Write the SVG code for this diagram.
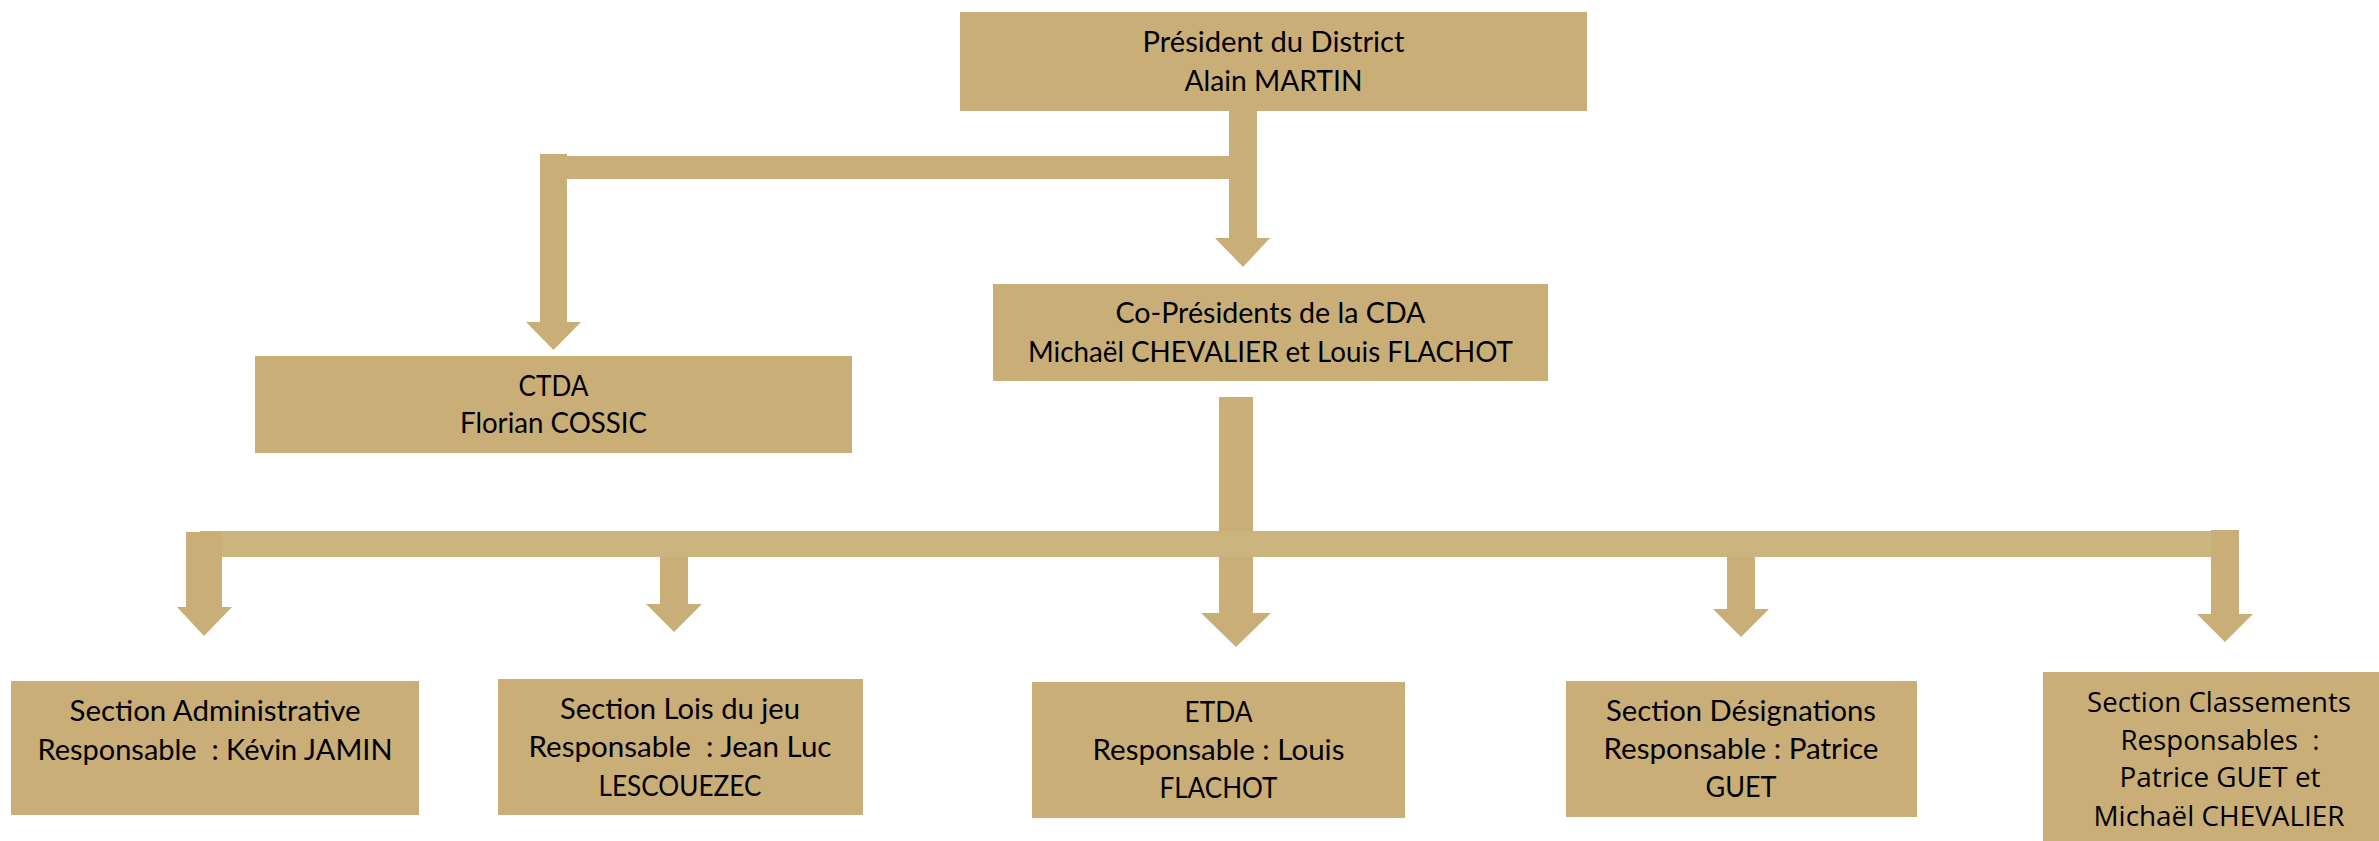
<svg xmlns="http://www.w3.org/2000/svg" width="2379" height="841" viewBox="0 0 2379 841">
<style>
.box{fill:#C9AF77}
.arr{fill:#C9AF77}
.bar{fill:#CCB47F}
.t{font-family:Lato,"Open Sans","Liberation Sans",sans-serif;font-size:29px;fill:#000;text-anchor:middle;white-space:pre}
.o{font-family:"Open Sans","Liberation Sans",sans-serif;font-size:28px;fill:#000;text-anchor:middle;white-space:pre}
</style>
<rect width="2379" height="841" fill="#fff"/>
<g id="connectors">
  <path class="arr" d="M1229,111 H1257 V238 H1270 L1243,267 L1215,238 H1229 Z"/>
  <rect class="arr" x="540" y="156" width="700" height="23"/>
  <path class="arr" d="M540,154 H567 V322 H581 L553.5,350 L526,322 H540 Z"/>
  <path class="arr" d="M1219,397 H1253 V613 H1271 L1236,647 L1201,613 H1219 Z"/>
  <rect class="bar" x="200" y="531" width="2030" height="26"/>
  <path class="arr" d="M186,532 H222 V607 H232 L204,636 L177,607 H186 Z"/>
  <path class="arr" d="M660,557 H688 V604 H702 L674,632 L646,604 H660 Z"/>
  <path class="arr" d="M1727,557 H1755 V609 H1769 L1741,637 L1713,609 H1727 Z"/>
  <path class="arr" d="M2211,530 H2239 V614 H2253 L2225,642 L2197,614 H2211 Z"/>
</g>
<g id="president">
  <rect class="box" x="960" y="12" width="627" height="99"/>
  <text class="t" x="1273.5" y="52" textLength="262" lengthAdjust="spacingAndGlyphs">Président du District</text>
  <text class="t" x="1273.5" y="91" textLength="178" lengthAdjust="spacingAndGlyphs">Alain MARTIN</text>
</g>
<g id="copresidents">
  <rect class="box" x="993" y="284" width="555" height="97"/>
  <text class="t" x="1270.5" y="323" textLength="310" lengthAdjust="spacingAndGlyphs">Co-Présidents de la CDA</text>
  <text class="t" x="1270.5" y="362" textLength="485" lengthAdjust="spacingAndGlyphs">Michaël CHEVALIER et Louis FLACHOT</text>
</g>
<g id="ctda">
  <rect class="box" x="255" y="356" width="597" height="97"/>
  <text class="t" x="553.5" y="396" textLength="70" lengthAdjust="spacingAndGlyphs">CTDA</text>
  <text class="t" x="553.5" y="433" textLength="187" lengthAdjust="spacingAndGlyphs">Florian COSSIC</text>
</g>
<g id="admin">
  <rect class="box" x="11" y="681" width="408" height="134"/>
  <text class="t" x="215" y="721" textLength="291" lengthAdjust="spacingAndGlyphs">Section Administrative</text>
  <text class="t" x="215" y="760" textLength="355" lengthAdjust="spacingAndGlyphs">Responsable  : Kévin JAMIN</text>
</g>
<g id="lois">
  <rect class="box" x="498" y="679" width="365" height="136"/>
  <text class="t" x="680" y="719" textLength="240" lengthAdjust="spacingAndGlyphs">Section Lois du jeu</text>
  <text class="t" x="680" y="757" textLength="303" lengthAdjust="spacingAndGlyphs">Responsable  : Jean Luc</text>
  <text class="t" x="680" y="796" textLength="163" lengthAdjust="spacingAndGlyphs">LESCOUEZEC</text>
</g>
<g id="etda">
  <rect class="box" x="1032" y="682" width="373" height="136"/>
  <text class="t" x="1218.5" y="722" textLength="68" lengthAdjust="spacingAndGlyphs">ETDA</text>
  <text class="t" x="1218.5" y="760" textLength="252" lengthAdjust="spacingAndGlyphs">Responsable : Louis</text>
  <text class="t" x="1218.5" y="798" textLength="118" lengthAdjust="spacingAndGlyphs">FLACHOT</text>
</g>
<g id="designations">
  <rect class="box" x="1566" y="681" width="351" height="136"/>
  <text class="t" x="1741" y="721" textLength="270" lengthAdjust="spacingAndGlyphs">Section Désignations</text>
  <text class="t" x="1741" y="759" textLength="275" lengthAdjust="spacingAndGlyphs">Responsable : Patrice</text>
  <text class="t" x="1741" y="797" textLength="71" lengthAdjust="spacingAndGlyphs">GUET</text>
</g>
<g id="classements">
  <rect class="box" x="2043" y="672" width="336" height="169"/>
  <text class="o" x="2219" y="712" textLength="264" lengthAdjust="spacingAndGlyphs">Section Classements</text>
  <text class="o" x="2220" y="750" textLength="199" lengthAdjust="spacingAndGlyphs">Responsables  :</text>
  <text class="o" x="2220" y="787" textLength="201" lengthAdjust="spacingAndGlyphs">Patrice GUET et</text>
  <text class="o" x="2219" y="826" textLength="251" lengthAdjust="spacingAndGlyphs">Michaël CHEVALIER</text>
</g>
</svg>
